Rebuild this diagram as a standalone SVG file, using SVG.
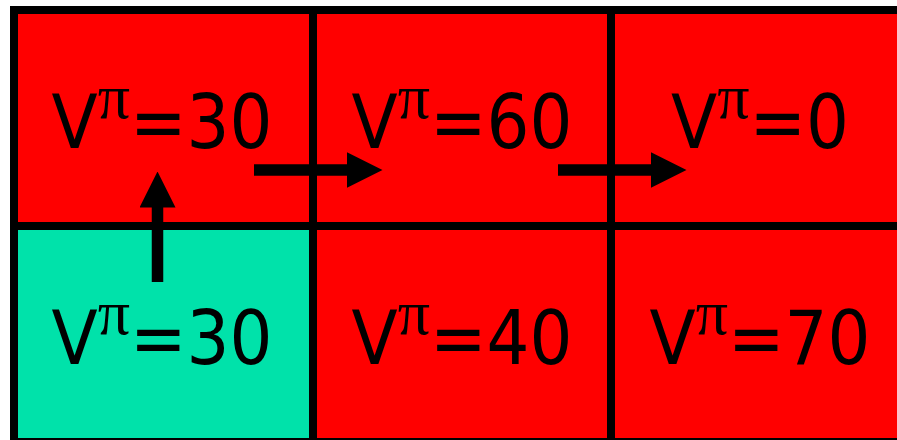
<svg xmlns="http://www.w3.org/2000/svg" width="897" height="440" viewBox="0 0 897 440">
  <defs>
    <style>
      .cell { stroke: #000; stroke-width: 8; }
      .red { fill: #FF0000; }
      .green { fill: #00E2AA; }
      .lbl { font-family: "DejaVu Sans Condensed", "DejaVu Sans", sans-serif; font-stretch: condensed; font-size: 75px; fill: #000; text-anchor: middle; }
      .pi { font-family: "Liberation Serif", "DejaVu Serif", serif; font-stretch: normal; font-size: 64px; }
      .arrow { stroke: #000; stroke-width: 11.5; fill: none; marker-end: url(#head); }
    </style>
    <marker id="head" viewBox="0 0 36 36" markerWidth="36" markerHeight="36" markerUnits="userSpaceOnUse" refX="0.5" refY="18" orient="auto">
      <path d="M0,0 L36,18 L0,36 z" fill="#000"/>
    </marker>
  </defs>
  <rect width="897" height="440" fill="#fff"/>
  <g id="cell-0-0">
    <rect class="cell red" x="14" y="10" width="299" height="216"/>
    <text class="lbl" x="162" y="148">V<tspan class="pi" dy="-30">π</tspan><tspan dy="30">=30</tspan></text>
  </g>
  <g id="cell-0-1">
    <rect class="cell red" x="313" y="10" width="298" height="216"/>
    <text class="lbl" x="462" y="148">V<tspan class="pi" dy="-30">π</tspan><tspan dy="30">=60</tspan></text>
  </g>
  <g id="cell-0-2">
    <rect class="cell red" x="611" y="10" width="298" height="216"/>
    <text class="lbl" x="760" y="148">V<tspan class="pi" dy="-30">π</tspan><tspan dy="30">=0</tspan></text>
  </g>
  <g id="cell-1-0">
    <rect class="cell green" x="14" y="226" width="299" height="216"/>
    <text class="lbl" x="162" y="364">V<tspan class="pi" dy="-30">π</tspan><tspan dy="30">=30</tspan></text>
  </g>
  <g id="cell-1-1">
    <rect class="cell red" x="313" y="226" width="298" height="216"/>
    <text class="lbl" x="462" y="364">V<tspan class="pi" dy="-30">π</tspan><tspan dy="30">=40</tspan></text>
  </g>
  <g id="cell-1-2">
    <rect class="cell red" x="611" y="226" width="298" height="216"/>
    <text class="lbl" x="760" y="364">V<tspan class="pi" dy="-30">π</tspan><tspan dy="30">=70</tspan></text>
  </g>
  <g id="connectors">
    <line class="arrow" x1="157.5" y1="282" x2="157.5" y2="207"/>
    <line class="arrow" x1="254" y1="170" x2="347" y2="170"/>
    <line class="arrow" x1="558" y1="170" x2="651" y2="170"/>
  </g>
</svg>
